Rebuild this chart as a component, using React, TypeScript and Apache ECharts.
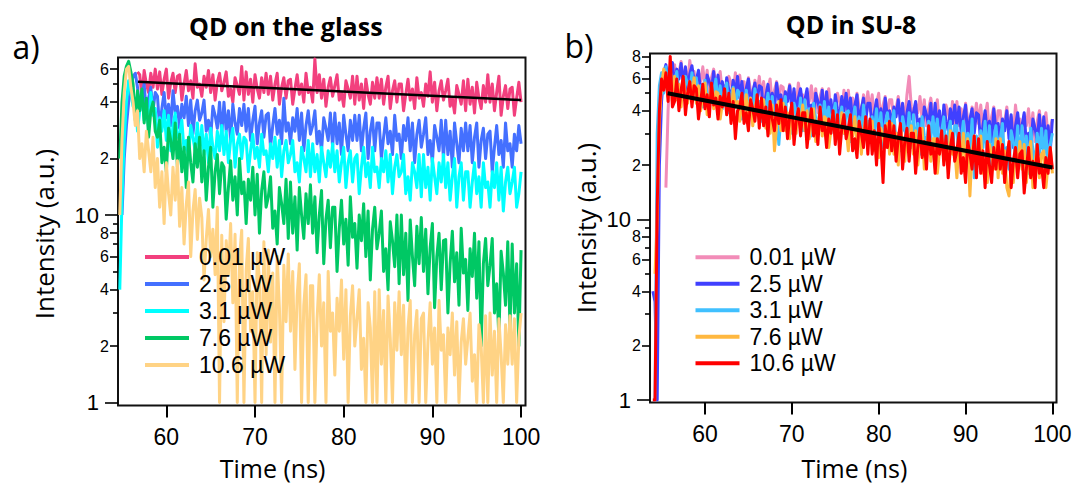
import React, { useEffect, useRef } from "react";
import * as echarts from "echarts";

// Sampling times (ns), shared by every trace
const TIME = [
  54, 54.25, 54.5, 54.75, 55, 55.25, 55.5, 55.75, 56, 56.25,
  56.5, 56.75, 57, 57.25, 57.5, 57.75, 58, 58.25, 58.5, 58.75,
  59, 59.25, 59.5, 59.75, 60, 60.25, 60.5, 60.75, 61, 61.25,
  61.5, 61.75, 62, 62.25, 62.5, 62.75, 63, 63.25, 63.5, 63.75,
  64, 64.25, 64.5, 64.75, 65, 65.25, 65.5, 65.75, 66, 66.25,
  66.5, 66.75, 67, 67.25, 67.5, 67.75, 68, 68.25, 68.5, 68.75,
  69, 69.25, 69.5, 69.75, 70, 70.25, 70.5, 70.75, 71, 71.25,
  71.5, 71.75, 72, 72.25, 72.5, 72.75, 73, 73.25, 73.5, 73.75,
  74, 74.25, 74.5, 74.75, 75, 75.25, 75.5, 75.75, 76, 76.25,
  76.5, 76.75, 77, 77.25, 77.5, 77.75, 78, 78.25, 78.5, 78.75,
  79, 79.25, 79.5, 79.75, 80, 80.25, 80.5, 80.75, 81, 81.25,
  81.5, 81.75, 82, 82.25, 82.5, 82.75, 83, 83.25, 83.5, 83.75,
  84, 84.25, 84.5, 84.75, 85, 85.25, 85.5, 85.75, 86, 86.25,
  86.5, 86.75, 87, 87.25, 87.5, 87.75, 88, 88.25, 88.5, 88.75,
  89, 89.25, 89.5, 89.75, 90, 90.25, 90.5, 90.75, 91, 91.25,
  91.5, 91.75, 92, 92.25, 92.5, 92.75, 93, 93.25, 93.5, 93.75,
  94, 94.25, 94.5, 94.75, 95, 95.25, 95.5, 95.75, 96, 96.25,
  96.5, 96.75, 97, 97.25, 97.5, 97.75, 98, 98.25, 98.5, 98.75,
  99, 99.25, 99.5, 99.75, 100,
];

const POWERS = ["0.01 µW", "2.5 µW", "3.1 µW", "7.6 µW", "10.6 µW"];

// ---- a) QD on the glass ----
const GLASS_001 = [
  null, null, null, null, null, null, null, null, null, null,
  null, 58, 56, 43, 59, 50, 45, 57, 48, 60,
  47, 58, 44, 53, 60, 42, 51, 57, 45, 55,
  56, 41, 50, 59, 46, 52, 42, 64, 48, 50,
  43, 55, 48, 59, 45, 56, 41, 51, 57, 46,
  51, 58, 43, 47, 40, 54, 49, 44, 62, 41,
  58, 44, 53, 40, 56, 47, 42, 54, 45, 57,
  44, 55, 41, 50, 57, 39, 48, 54, 42, 52,
  53, 39, 47, 56, 44, 50, 40, 57, 45, 48,
  40, 68, 45, 56, 42, 53, 38, 48, 54, 43,
  49, 56, 41, 45, 38, 52, 47, 42, 55, 39,
  55, 41, 50, 37, 53, 44, 39, 51, 42, 54,
  42, 53, 39, 48, 55, 37, 46, 52, 40, 50,
  50, 36, 44, 53, 41, 47, 37, 54, 42, 45,
  38, 50, 43, 58, 40, 51, 36, 46, 52, 41,
  46, 53, 38, 42, 35, 49, 44, 39, 52, 36,
  53, 39, 48, 35, 51, 42, 37, 49, 40, 56,
  40, 50, 36, 45, 55, 34, 43, 49, 37, 47,
  48, 34, 42, 51, 40,
];
const GLASS_25 = [
  null, null, null, null, 10, 20, 30, 40, 48, 55,
  57, 48, 36, 44, 50, 34, 42, 48, 36, 45,
  43, 29, 37, 45, 33, 39, 30, 46, 35, 38,
  29, 39, 33, 43, 30, 41, 27, 36, 41, 32,
  35, 41, 28, 32, 26, 38, 34, 29, 40, 27,
  40, 28, 36, 25, 39, 31, 27, 37, 30, 39,
  28, 37, 25, 32, 38, 24, 31, 36, 26, 34,
  35, 23, 30, 37, 27, 32, 24, 42, 28, 31,
  24, 33, 28, 37, 25, 35, 22, 30, 36, 27,
  30, 36, 24, 28, 22, 33, 29, 25, 35, 23,
  35, 24, 31, 21, 34, 27, 22, 32, 25, 34,
  25, 34, 22, 29, 35, 20, 28, 33, 22, 31,
  31, 20, 26, 33, 24, 28, 21, 34, 25, 27,
  20, 30, 25, 33, 22, 31, 19, 27, 32, 23,
  27, 33, 21, 25, 19, 30, 26, 22, 32, 20,
  32, 21, 28, 18, 31, 24, 19, 29, 22, 31,
  22, 30, 19, 26, 31, 18, 25, 29, 20, 27,
  28, 17, 23, 30, 21, 25, 18, 31, 22, 24,
  18, 27, 22, 30, 24,
];
const GLASS_31 = [
  null, null, null, 4, 12, 25, 40, 52, 45, 38,
  42, 28, 36, 44, 32, 38, 29, 45, 34, 37,
  23, 33, 28, 36, 25, 34, 22, 30, 35, 26,
  27, 32, 22, 25, 20, 30, 26, 22, 31, 21,
  30, 21, 27, 19, 29, 23, 20, 28, 22, 30,
  21, 28, 19, 25, 29, 18, 24, 27, 20, 26,
  25, 17, 22, 27, 20, 23, 18, 27, 21, 22,
  17, 24, 20, 26, 18, 25, 16, 22, 25, 19,
  21, 25, 17, 19, 15, 23, 20, 17, 25, 16,
  24, 17, 21, 15, 23, 19, 16, 22, 18, 24,
  17, 22, 15, 19, 23, 14, 19, 22, 15, 20,
  21, 13, 18, 23, 16, 19, 14, 23, 17, 18,
  14, 20, 17, 22, 15, 21, 13, 18, 21, 16,
  17, 21, 13, 16, 12, 19, 17, 14, 21, 12.5,
  21, 14, 18, 12, 20, 16, 13, 19, 15, 21,
  14, 19, 12, 16, 20, 11, 16, 19, 12, 17,
  17, 11, 15, 19, 13, 16, 11, 19, 14, 15,
  11, 17, 14, 19, 12, 18, 10.5, 15, 18, 13,
  15, 18, 11, 13, 17,
];
const GLASS_76 = [
  null, null, null, 20, 40, 55, 62, 66, 58, 50,
  32, 46, 36, 47, 31, 42, 26, 36, 40, 28,
  26, 32, 19, 23, 17, 29, 25, 20, 31, 18,
  27, 17, 23, 14, 26, 19, 15, 24, 18, 26,
  15, 22, 12, 18, 23, 11, 17, 21, 13, 19,
  18, 9.5, 14, 19.5, 12, 16, 10, 20, 13, 15,
  9, 15.5, 12, 18, 10, 16.5, 8, 13.5, 17, 11,
  12.5, 16, 8.5, 10.5, 7, 14, 11.5, 9, 15.5, 7.5,
  15, 8, 12.5, 6.5, 14, 10, 7.5, 13, 9, 14.5,
  8, 12.5, 6.3, 10, 13.5, 5.5, 9.5, 12, 6.7, 11,
  11, 5, 8.5, 12, 7, 9.5, 5.4, 12.5, 7.6, 9,
  5.2, 10, 7.3, 11.5, 6, 10.5, 4.5, 8.4, 11, 6.6,
  8, 10.5, 5, 6.6, 4, 9.2, 7.3, 5.3, 10, 4.3,
  10, 4.8, 8, 3.5, 9.4, 6, 4.2, 8.7, 5.5, 9.7,
  5, 8.4, 3.8, 6.7, 9, 3.2, 6, 8, 4, 7.3,
  7.4, 3, 5.5, 8.2, 4.4, 6.3, 3.3, 8.5, 4.9, 5.8,
  3.1, 6.6, 4.7, 8, 3.6, 7.2, 2, 5.5, 7.5, 4.2,
  5.4, 7.5, 3, 4.3, 2.2, 6.4, 4.9, 3.3, 7.2, 2.5,
  7, 3, 5.5, 2, 6.5,
];
const GLASS_106 = [
  null, null, null, 10, 25, 45, 60, 62, 48, 40,
  30, 36, 20, 24, 17, 28, 22, 17, 26, 14,
  20, 11, 17, 9, 19, 13, 10, 18, 12, 19.5,
  8.7, 14, 7, 11.4, 15, 6, 10.5, 13.7, 7.4, 12.3,
  9.7, 4.5, 7.4, 10.7, 6, 8.4, 4.8, 11, 1, 7.8,
  2.7, 7.3, 4.8, 9, 3.4, 7.9, 1, 5.9, 8.3, 1,
  5.1, 7.5, 2.4, 3.9, 1, 6.3, 4.5, 1, 7.2, 1.8,
  6.5, 2.1, 4.9, 1, 6, 3.2, 1, 5.4, 2.7, 6.2,
  2.4, 5, 1.5, 3.7, 5.5, 1, 3.3, 4.8, 1, 4.2,
  4.2, 1, 2.8, 4.8, 2, 3.4, 1, 5, 2.4, 3,
  1.4, 3.6, 2.4, 4.5, 1.7, 4, 1, 2.9, 4.2, 2,
  2.8, 4, 1.5, 2.2, 1, 3.4, 2.5, 1, 3.9, 1,
  4, 1.6, 3.1, 1, 3.7, 2.2, 1, 3.4, 1.9, 3.9,
  1.8, 3.3, 1, 2.5, 3.5, 1, 2.3, 3.1, 1, 2.8,
  3, 1, 2.1, 3.4, 1.6, 2.5, 1, 3.5, 1.9, 2.3,
  1, 2.5, 1.8, 3, 1.4, 2.7, 1, 2.1, 2.8, 1.6,
  2.2, 3, 1.3, 1.8, 1, 2.6, 2, 1, 2.9, 1,
  3, 1.4, 2.4, 1, 2.8, 1.8, 1, 2.6, 1.6, 2.9,
  1.6, 2.8, 1, 2.2, 3,
];
const GLASS_FIT_T = [56.8, 100];
const GLASS_FIT_I = [51.4, 41.0];

// ---- b) QD in SU-8 ----
const SU8_001 = [
  null, null, null, null, null, null, 15, 40, 70, 60,
  72, 55, 65, 75, 60, 68, 56, 76, 62, 66,
  52, 65, 58, 70, 54, 67, 50, 61, 68, 56,
  58, 66, 50, 55, 47, 62, 57, 51, 65, 48,
  63, 49, 58, 45, 61, 52, 47, 59, 50, 62,
  48, 58, 45, 53, 60, 43, 52, 58, 46, 55,
  54, 41, 48, 56, 45, 51, 42, 57, 47, 49,
  41, 51, 45, 55, 42, 53, 39, 48, 53, 44,
  47, 53, 39, 43, 37, 50, 45, 40, 52, 38,
  52, 39, 47, 36, 50, 42, 38, 49, 41, 51,
  40, 49, 37, 44, 50, 35, 43, 48, 37, 46,
  46, 34, 41, 48, 38, 43, 35, 49, 62, 42,
  35, 44, 39, 48, 36, 46, 33, 41, 47, 38,
  40, 46, 33, 37, 31, 43, 39, 34, 45, 32,
  45, 33, 41, 30, 44, 36, 32, 42, 35, 44,
  34, 43, 31, 38, 44, 29, 37, 42, 31, 40,
  40, 28, 35, 42, 32, 37, 29, 43, 33, 36,
  28, 38, 33, 41, 30, 39, 27, 35, 40, 31,
  34, 39, 29, 32, 36,
];
const SU8_25 = [
  4, 3.5, 1, 20, 45, 65, 72, 60, 70, 74,
  54, 68, 60, 73, 56, 70, 52, 64, 71, 58,
  59, 67, 51, 56, 48, 63, 58, 52, 66, 49,
  63, 49, 58, 45, 61, 52, 47, 59, 50, 62,
  47, 58, 44, 53, 60, 42, 51, 57, 45, 55,
  54, 40, 48, 56, 44, 50, 41, 57, 46, 49,
  40, 51, 45, 55, 41, 53, 38, 47, 53, 43,
  46, 53, 39, 43, 36, 50, 45, 39, 52, 37,
  51, 38, 46, 35, 49, 41, 37, 48, 40, 50,
  38, 47, 35, 43, 49, 33, 41, 47, 35, 44,
  44, 32, 39, 46, 36, 41, 33, 47, 37, 40,
  33, 42, 37, 46, 34, 44, 31, 39, 45, 36,
  39, 45, 32, 36, 30, 42, 38, 33, 44, 31,
  44, 32, 40, 29, 43, 35, 31, 41, 34, 43,
  33, 42, 30, 37, 43, 28, 36, 41, 30, 39,
  38, 26, 33, 40, 30, 35, 27, 41, 31, 34,
  27, 36, 31, 40, 28, 38, 25, 33, 39, 30,
  33, 39, 26, 30, 24, 36, 32, 27, 38, 25,
  37, 27, 33, 24, 36,
];
const SU8_31 = [
  1, 1, 30, 55, 65, 50, 70, 52, 66, 60,
  58, 66, 49, 54, 46, 62, 56, 50, 65, 47,
  61, 46, 55, 42, 59, 50, 44, 57, 48, 60,
  44, 55, 41, 50, 57, 39, 48, 54, 42, 52,
  50, 36, 44, 52, 40, 46, 37, 53, 42, 45,
  35, 46, 40, 50, 36, 48, 33, 42, 26, 38,
  41, 48, 33, 37, 30, 44, 39, 34, 47, 31,
  46, 32, 41, 29, 44, 36, 31, 43, 34, 45,
  33, 42, 30, 38, 44, 28, 36, 42, 30, 39,
  40, 27, 34, 42, 31, 37, 28, 43, 33, 35,
  27, 37, 31, 41, 28, 39, 25, 34, 39, 30,
  34, 40, 26, 30, 24, 37, 32, 27, 39, 25,
  38, 26, 34, 23, 37, 29, 25, 35, 28, 37,
  27, 36, 24, 31, 37, 22, 30, 35, 24, 33,
  33, 21, 28, 35, 25, 30, 22, 36, 17, 29,
  21, 31, 25, 35, 22, 33, 19, 28, 33, 24,
  28, 34, 21, 25, 19, 31, 27, 22, 33, 20,
  33, 21, 29, 18, 32, 24, 20, 30, 23, 32,
  22, 31, 19, 26, 30,
];
const SU8_76 = [
  null, 5, 10, 35, 55, 68, 60, 48, 64, 45,
  62, 46, 56, 42, 60, 50, 44, 58, 48, 61,
  44, 55, 40, 49, 57, 38, 48, 54, 41, 51,
  50, 36, 44, 52, 40, 46, 37, 53, 42, 45,
  35, 45, 39, 49, 36, 47, 33, 42, 47, 38,
  40, 46, 32, 36, 30, 43, 24, 33, 45, 31,
  44, 31, 39, 28, 42, 34, 30, 41, 33, 43,
  31, 40, 28, 35, 41, 27, 34, 39, 29, 37,
  36, 25, 31, 38, 29, 33, 26, 39, 30, 32,
  24, 34, 29, 37, 26, 35, 23, 31, 36, 27,
  30, 35, 24, 27, 22, 32, 29, 25, 34, 23,
  34, 23, 30, 20, 33, 26, 21, 31, 24, 33,
  23, 31, 20, 27, 32, 19, 26, 30, 21, 28,
  28, 18, 24, 30, 21, 26, 19, 31, 23, 25,
  17, 27, 22, 30, 19, 28, 13.5, 24, 29, 20,
  24, 29, 18, 21, 16, 26, 23, 19, 28, 17,
  28, 18, 24, 15, 13.5, 20, 16, 25, 19, 27,
  19, 26, 16, 22, 27, 15, 21, 25, 17, 23,
  24, 15, 20, 25, 18,
];
const SU8_106 = [
  1, 1, 12, 40, 60, 52, 65, 45, 80, 42,
  45, 60, 40, 52, 62, 38, 50, 58, 42, 55,
  53, 36, 45, 56, 41, 49, 37, 57, 43, 47,
  36, 48, 42, 53, 38, 50, 34, 45, 28, 40,
  42, 50, 34, 39, 31, 46, 41, 35, 49, 32,
  47, 33, 42, 29, 45, 36, 31, 43, 34, 46,
  31, 42, 28, 37, 44, 26, 35, 41, 29, 39,
  39, 25, 33, 41, 29, 35, 26, 42, 31, 34,
  25, 36, 30, 40, 26, 38, 23, 32, 38, 28,
  32, 38, 24, 28, 22, 35, 30, 25, 37, 23,
  36, 23, 31, 20, 34, 26, 16, 33, 25, 35,
  24, 33, 21, 28, 34, 19, 27, 32, 21, 30,
  30, 18, 25, 32, 22, 27, 19, 33, 23, 26,
  18, 28, 23, 31, 20, 29, 17, 25, 30, 21,
  24, 30, 18, 22, 16, 27, 23, 19, 29, 17,
  28, 18, 24, 15, 27, 20, 16, 25, 19, 27,
  19, 26, 16, 22, 27, 15, 21, 25, 17, 23,
  24, 14, 19, 25, 17, 21, 15, 26, 18, 20,
  15, 22, 18, 25, 19,
];
const SU8_FIT_T = [55.7, 100];
const SU8_FIT_I = [50, 19.4];

// Axis ticks
const X_TICKS = [60, 70, 80, 90, 100];
const Y_LABEL_TICKS_A = [2, 4, 6, 8, 20, 40, 60];
const Y_LABEL_TICKS_B = [2, 4, 6, 8, 20, 40, 60, 80];
const Y_DECADE_TICKS = [1, 10];
const Y_MINOR_TICKS_A = [3, 5, 7, 9, 30, 50];
const Y_MINOR_TICKS_B = [3, 5, 7, 9, 30, 50, 70];

const GLASS_SERIES = [GLASS_001, GLASS_25, GLASS_31, GLASS_76, GLASS_106];
const SU8_SERIES = [SU8_001, SU8_25, SU8_31, SU8_76, SU8_106];
const GLASS_COLORS = ["#F2407E", "#4470FF", "#00FFFF", "#00C864", "#FFD385"];
const SU8_COLORS = ["#F28CB8", "#4040FF", "#40C0FF", "#FFB840", "#FF0000"];

const SANS = "'Liberation Sans', Arial, sans-serif";
const TITLE_FONT = "'Open Sans', 'Noto Sans', sans-serif";

function pairs(vals: (number | null)[]) {
  const out: [number, number][] = [];
  TIME.forEach((t, i) => {
    const v = vals[i];
    if (v !== null && v !== undefined) out.push([t, v]);
  });
  return out;
}

function yAxesFor(grid: number, min: number, max: number, labelTicks: number[], minorTicks: number[]) {
  const tickLine = { color: "#000", width: 1.6 };
  return [
    {
      gridIndex: grid, type: "log", logBase: 10, min, max, position: "left",
      axisLine: { show: false }, splitLine: { show: false },
      axisTick: { show: true, customValues: labelTicks, length: 8, lineStyle: tickLine },
      axisLabel: {
        customValues: labelTicks, fontSize: 16, margin: 9, color: "#000", fontFamily: SANS,
        formatter: (v: number) => {
          const r = Math.round(v);
          return String(r >= 20 ? r / 10 : r);
        },
      },
    },
    {
      gridIndex: grid, type: "log", logBase: 10, min, max, position: "left",
      axisLine: { show: false }, splitLine: { show: false },
      axisTick: { show: true, customValues: Y_DECADE_TICKS, length: 13, lineStyle: tickLine },
      axisLabel: {
        customValues: Y_DECADE_TICKS, fontSize: 22, margin: 19, color: "#000", fontFamily: SANS,
        formatter: (v: number) => String(Math.round(v)),
      },
    },
    {
      gridIndex: grid, type: "log", logBase: 10, min, max, position: "left",
      axisLine: { show: false }, splitLine: { show: false },
      axisTick: { show: true, customValues: minorTicks, length: 5, lineStyle: tickLine },
      axisLabel: { show: false },
    },
  ];
}

function xAxisFor(grid: number, min: number, max: number) {
  return {
    gridIndex: grid, type: "value", min, max,
    axisLine: { show: false }, splitLine: { show: false },
    axisTick: { show: true, customValues: X_TICKS, length: 12, lineStyle: { color: "#000", width: 2 } },
    axisLabel: { customValues: X_TICKS, fontSize: 23, margin: 20, color: "#000", fontFamily: SANS },
  };
}

export default function App() {
  const ref = useRef<HTMLDivElement>(null);
  useEffect(() => {
    if (!ref.current) return;
    const chart = echarts.init(ref.current, null, { renderer: "svg" });

    const series: any[] = [];
    GLASS_SERIES.forEach((vals, k) => {
      series.push({
        name: "glass|" + POWERS[k], type: "line", xAxisIndex: 0, yAxisIndex: 0,
        data: pairs(vals), showSymbol: false, symbol: "none", color: GLASS_COLORS[k],
        lineStyle: { width: 3, color: GLASS_COLORS[k], join: "round" }, z: 2 + k,
      });
    });
    series.push({
      name: "glass fit", type: "line", xAxisIndex: 0, yAxisIndex: 0,
      data: GLASS_FIT_T.map((t, i) => [t, GLASS_FIT_I[i]]), showSymbol: false, symbol: "none",
      color: "#000", lineStyle: { width: 2.5, color: "#000" }, z: 10,
    });
    SU8_SERIES.forEach((vals, k) => {
      series.push({
        name: "su8|" + POWERS[k], type: "line", xAxisIndex: 1, yAxisIndex: 3,
        data: pairs(vals), showSymbol: false, symbol: "none", color: SU8_COLORS[k],
        lineStyle: { width: 3, color: SU8_COLORS[k], join: "round" }, z: 2 + k,
      });
    });
    series.push({
      name: "su8 fit", type: "line", xAxisIndex: 1, yAxisIndex: 3,
      data: SU8_FIT_T.map((t, i) => [t, SU8_FIT_I[i]]), showSymbol: false, symbol: "none",
      color: "#000", lineStyle: { width: 4, color: "#000" }, z: 10,
    });

    const legendBase = {
      orient: "vertical", itemWidth: 44, itemHeight: 4, itemGap: 0, icon: "rect",
      padding: 0, selectedMode: false, z: 20,
      formatter: (n: string) => n.split("|")[1],
    };

    const txt = (text: string, x: number, y: number, font: string, rotation = 0) => ({
      type: "text", x, y, rotation, silent: true,
      style: {
        text, font, fill: "#000",
        align: "center", verticalAlign: "middle",
        textAlign: "center", textVerticalAlign: "middle",
      },
    });

    chart.setOption({
      animation: false,
      backgroundColor: "#fff",
      grid: [
        { left: 118, top: 57.5, width: 407.5, height: 348, show: true, borderColor: "#111", borderWidth: 2, backgroundColor: "transparent" },
        { left: 650, top: 53.5, width: 406.5, height: 349, show: true, borderColor: "#111", borderWidth: 2, backgroundColor: "transparent" },
      ],
      xAxis: [xAxisFor(0, 54.55, 100.5), xAxisFor(1, 53.67, 100.47)],
      yAxis: [
        ...yAxesFor(0, 0.964, 69.2, Y_LABEL_TICKS_A, Y_MINOR_TICKS_A),
        ...yAxesFor(1, 0.969, 83, Y_LABEL_TICKS_B, Y_MINOR_TICKS_B),
      ],
      legend: [
        {
          ...legendBase, left: 145, top: 243.5,
          data: POWERS.map((p) => "glass|" + p),
          textStyle: { fontSize: 23, lineHeight: 27, fontFamily: SANS, color: "#000", padding: [0, 0, 0, 5] },
        },
        {
          ...legendBase, left: 695.5, top: 244,
          data: POWERS.map((p) => "su8|" + p),
          textStyle: { fontSize: 23, lineHeight: 26.5, fontFamily: SANS, color: "#000", padding: [0, 0, 0, 5] },
        },
      ],
      graphic: [
        txt("QD on the glass", 285.8, 25.5, `bold 25px ${TITLE_FONT}`),
        txt("QD in SU-8", 851, 24, `bold 25px ${TITLE_FONT}`),
        txt("a)", 26, 46, `32px ${TITLE_FONT}`),
        txt("b)", 579, 45, `32px ${TITLE_FONT}`),
        txt("Intensity (a.u.)", 44, 234, `26px ${TITLE_FONT}`, Math.PI / 2),
        txt("Intensity (a.u.)", 586, 228, `26px ${TITLE_FONT}`, Math.PI / 2),
        txt("Time (ns)", 272.6, 468, `25px ${TITLE_FONT}`),
        txt("Time (ns)", 854.4, 468, `25px ${TITLE_FONT}`),
      ],
      series,
    });

    return () => chart.dispose();
  }, []);

  return (
    <div
      ref={ref}
      style={{ position: "fixed", left: 0, top: 0, width: 1077, height: 487, background: "#fff" }}
    />
  );
}
